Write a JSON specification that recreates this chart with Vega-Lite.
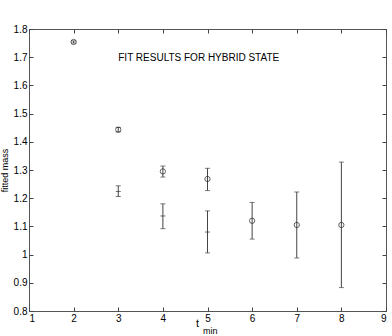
{
  "$schema": "https://vega.github.io/schema/vega-lite/v6.json",
  "autosize": "none",
  "padding": {"left": 29, "top": 29, "right": 6, "bottom": 25},
  "width": 357,
  "height": 282,
  "background": "white",
  "config": {
    "view": {"stroke": "#555", "strokeWidth": 1},
    "font": "Liberation Sans",
    "axis": {
      "grid": false,
      "domain": false,
      "tickColor": "#444",
      "tickSize": -4,
      "labelFont": "Liberation Sans",
      "labelFontSize": 10,
      "labelColor": "black",
      "titleFont": "Liberation Sans",
      "titleFontWeight": "normal",
      "titleColor": "black"
    }
  },
  "datasets": {
    "pts": [
      {"t": 2, "mass": 1.754, "lo": 1.750, "hi": 1.758, "series": "hybrid"},
      {"t": 3, "mass": 1.443, "lo": 1.435, "hi": 1.451, "series": "hybrid"},
      {"t": 4, "mass": 1.295, "lo": 1.275, "hi": 1.314, "series": "hybrid"},
      {"t": 5, "mass": 1.268, "lo": 1.227, "hi": 1.306, "series": "hybrid"},
      {"t": 6, "mass": 1.120, "lo": 1.055, "hi": 1.185, "series": "hybrid"},
      {"t": 7, "mass": 1.105, "lo": 0.988, "hi": 1.222, "series": "hybrid"},
      {"t": 8, "mass": 1.105, "lo": 0.883, "hi": 1.328, "series": "hybrid"},
      {"t": 3, "mass": 1.224, "lo": 1.206, "hi": 1.244, "series": "other"},
      {"t": 4, "mass": 1.137, "lo": 1.092, "hi": 1.180, "series": "other"},
      {"t": 5, "mass": 1.080, "lo": 1.006, "hi": 1.155, "series": "other"}
    ],
    "labels": [
      {"x": 3.0, "y": 1.698, "label": "FIT RESULTS FOR HYBRID STATE", "kind": "title"},
      {"x": 4.9, "y": 0.729, "label": "min", "kind": "sub"}
    ]
  },
  "resolve": {"axis": {"x": "independent", "y": "independent"}},
  "layer": [
    {
      "data": {"name": "pts"},
      "mark": {"type": "rule", "color": "#444", "strokeWidth": 1},
      "encoding": {
        "x": {"field": "t", "type": "quantitative",
          "scale": {"domain": [1, 9], "nice": false, "zero": false},
          "axis": {"orient": "bottom", "values": [1,2,3,4,5,6,7,8,9], "title": "t", "titleFontSize": 11, "titleX": 168, "titleY": 15, "titleBaseline": "alphabetic", "labelPadding": 6, "format": "~g"}},
        "y": {"field": "lo", "type": "quantitative",
          "scale": {"domain": [0.8, 1.8], "nice": false, "zero": false},
          "axis": {"orient": "left", "values": [0.8,0.9,1,1.1,1.2,1.3,1.4,1.5,1.6,1.7,1.8], "title": "fitted mass", "titleFontSize": 9, "titlePadding": 4, "labelPadding": 6, "format": "~g"}},
        "y2": {"field": "hi"}
      }
    },
    {
      "data": {"name": "pts"},
      "mark": {"type": "tick", "orient": "horizontal", "color": "#444", "thickness": 1, "size": 5},
      "encoding": {
        "x": {"field": "t", "type": "quantitative", "axis": {"orient": "top", "values": [1,2,3,4,5,6,7,8,9], "labels": false, "title": null}},
        "y": {"field": "lo", "type": "quantitative", "axis": {"orient": "right", "values": [0.8,0.9,1,1.1,1.2,1.3,1.4,1.5,1.6,1.7,1.8], "labels": false, "title": null}}
      }
    },
    {
      "data": {"name": "pts"},
      "mark": {"type": "tick", "orient": "horizontal", "color": "#444", "thickness": 1, "size": 5},
      "encoding": {
        "x": {"field": "t", "type": "quantitative", "axis": null},
        "y": {"field": "hi", "type": "quantitative", "axis": null}
      }
    },
    {
      "data": {"name": "pts"},
      "transform": [{"filter": "datum.series === 'other'"}],
      "mark": {"type": "tick", "orient": "horizontal", "color": "#333", "thickness": 1, "size": 5},
      "encoding": {
        "x": {"field": "t", "type": "quantitative", "axis": null},
        "y": {"field": "mass", "type": "quantitative", "axis": null}
      }
    },
    {
      "data": {"name": "pts"},
      "transform": [{"filter": "datum.series === 'hybrid'"}],
      "mark": {"type": "point", "shape": "circle", "filled": false, "color": "#222", "size": 28, "strokeWidth": 1},
      "encoding": {
        "x": {"field": "t", "type": "quantitative", "axis": null},
        "y": {"field": "mass", "type": "quantitative", "axis": null}
      }
    },
    {
      "data": {"name": "labels"},
      "transform": [{"filter": "datum.kind === 'title'"}],
      "mark": {"type": "text", "align": "left", "baseline": "middle", "fontSize": 10, "font": "Liberation Sans", "color": "black"},
      "encoding": {
        "x": {"field": "x", "type": "quantitative", "axis": null},
        "y": {"field": "y", "type": "quantitative", "axis": null},
        "text": {"field": "label"}
      }
    },
    {
      "data": {"name": "labels"},
      "transform": [{"filter": "datum.kind === 'sub'"}],
      "mark": {"type": "text", "align": "left", "baseline": "middle", "fontSize": 9, "font": "Liberation Sans", "color": "black"},
      "encoding": {
        "x": {"field": "x", "type": "quantitative", "axis": null},
        "y": {"field": "y", "type": "quantitative", "axis": null},
        "text": {"field": "label"}
      }
    }
  ]
}
